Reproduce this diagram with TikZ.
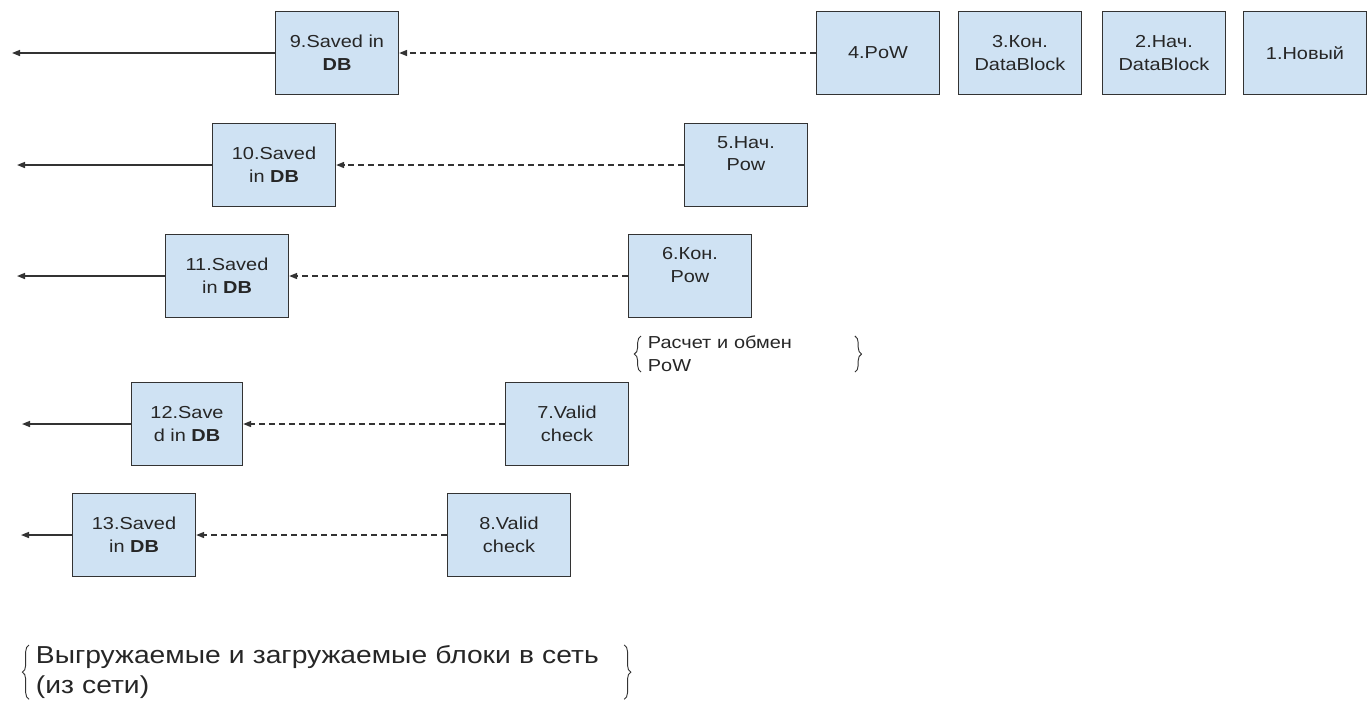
\documentclass[tikz,border=0pt]{standalone}
\usepackage{fontspec}
\setmainfont{Liberation Sans}[FakeStretch=1.15]
\usetikzlibrary{arrows.meta,decorations.pathreplacing}
\definecolor{blokfill}{HTML}{CFE2F3}
\definecolor{blokline}{HTML}{333333}
\begin{document}
\begin{tikzpicture}[x=.75pt, y=-.75pt, >={Triangle[length=6pt,width=4.5pt]},
    blok/.style={draw=blokline, fill=blokfill, line width=1.2pt, minimum width=92pt, minimum height=62pt,
      inner sep=2pt, align=center, text=black!85, font=\fontsize{13}{17}\selectfont},
    txtbox/.style={inner xsep=5pt, inner ysep=0pt, align=left, text=black!85},
    lnk/.style={->, draw=blokline, line width=1.1pt},
    dlnk/.style={lnk, dash pattern=on 4.5pt off 3pt},
    brc/.style={draw=blokline, line width=.7pt, decorate, decoration={brace, amplitude=5pt}}]
    
    \useasboundingbox (0,0) rectangle (1368,726);
    
    \node[blok] (b1) at (1305,53) {1.Новый};
    \node[blok] (b2) at (1164,53) {2.Нач.\\DataBlock};
    \node[blok] (b3) at (1020,53) {3.Кон.\\DataBlock};
    \node[blok] (b4) at (878,53) {4.PoW};
    \node[blok] (b9) at (337,53) {9.Saved in\\\textbf{DB}};
    
    \node[blok] (b5) at (746,165) {5.Нач.\\Pow\\~};
    \node[blok] (b10) at (274,165) {10.Saved\\in \textbf{DB}};
    
    \node[blok] (b6) at (690,276) {6.Кон.\\Pow\\~};
    \node[blok] (b11) at (227,276) {11.Saved\\in \textbf{DB}};
    
    \node[blok] (b7) at (567,424) {7.Valid\\check};
    \node[blok, minimum width=83pt] (b12) at (187,424) {12.Save\\d in \textbf{DB}};
    
    \node[blok] (b8) at (509,535) {8.Valid\\check};
    \node[blok] (b13) at (134,535) {13.Saved\\in \textbf{DB}};
    
    \coordinate (e9) at (12,53); \coordinate (e10) at (17,165); \coordinate (e11) at (17,276);
    \coordinate (e12) at (22,424); \coordinate (e13) at (21,535);
    
    \foreach \s/\t in {b9/e9, b10/e10, b11/e11, b12/e12, b13/e13}
    {
      \draw[lnk] (\s.west) -- (\t);
    }
    
    \foreach \s/\t in {b4/b9, b5/b10, b6/b11, b7/b12, b8/b13}
    {
      \draw[dlnk] (\s.west) -- (\t.east);
    }
    
    \node[txtbox, anchor=north west, text width=150pt, font=\fontsize{13}{17}\selectfont] (powtxt) at (641,336) {Расчет и обмен\\PoW};
    \draw[brc] (powtxt.south west) -- (powtxt.north west);
    \draw[brc] (powtxt.north east) -- (powtxt.south east);
    
    \node[txtbox, anchor=north west, text width=436pt, font=\fontsize{18.4}{23}\selectfont] (nettxt) at (29,645) {Выгружаемые и загружаемые блоки в сеть\\(из сети)};
    \draw[brc] (nettxt.south west) -- (nettxt.north west);
    \draw[brc] (nettxt.north east) -- (nettxt.south east);
    
\end{tikzpicture}
\end{document}
